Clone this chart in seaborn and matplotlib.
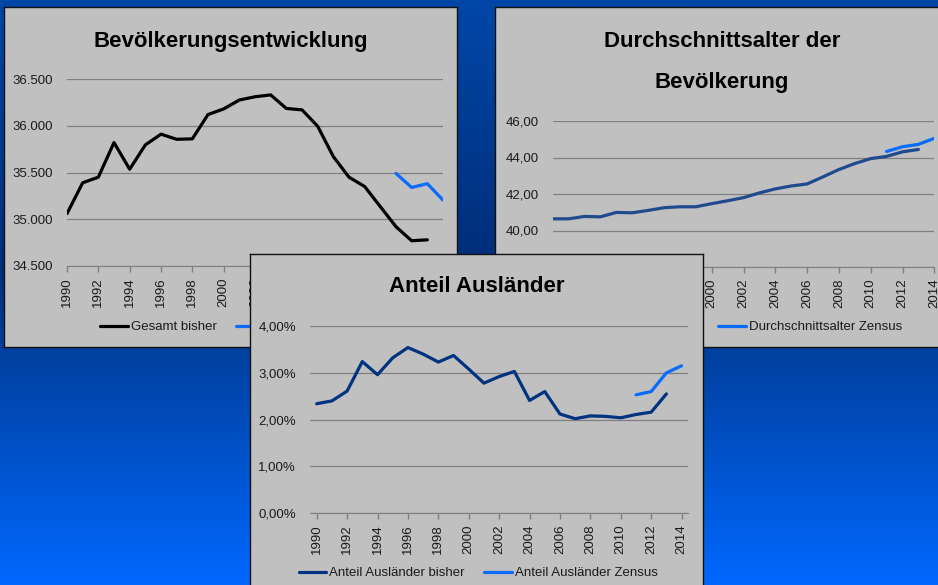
import numpy as np
import pandas as pd
import seaborn as sns
import matplotlib.pyplot as plt
from matplotlib.colors import LinearSegmentedColormap
from matplotlib.ticker import FuncFormatter, MultipleLocator

# --- data --------------------------------------------------------------
years = list(range(1990, 2014))
years_zensus = [2011, 2012, 2013, 2014]

einwohner_bisher = [35060, 35390, 35450, 35820, 35535, 35795, 35910, 35855,
                    35860, 36120, 36180, 36275, 36310, 36330, 36185, 36170,
                    35995, 35670, 35450, 35350, 35135, 34920, 34770, 34780]
einwohner_zensus = [35490, 35340, 35380, 35205]

alter_bisher = [40.64, 40.64, 40.77, 40.75, 40.99, 40.97, 41.10, 41.25,
                41.30, 41.30, 41.47, 41.63, 41.80, 42.06, 42.28, 42.44,
                42.55, 42.94, 43.34, 43.67, 43.94, 44.06, 44.31, 44.44]
alter_zensus = [44.33, 44.59, 44.72, 45.05]

auslaender_bisher = [2.34, 2.40, 2.61, 3.24, 2.96, 3.32, 3.54, 3.40, 3.23,
                     3.37, 3.08, 2.78, 2.92, 3.03, 2.41, 2.60, 2.12, 2.02,
                     2.08, 2.07, 2.04, 2.11, 2.16, 2.55]
auslaender_zensus = [2.53, 2.60, 3.00, 3.15]

titles = ["Bevölkerungsentwicklung", "Durchschnittsalter der\nBevölkerung",
          "Anteil Ausländer"]
labels = [("Gesamt bisher", "Gesamt Zensus"),
          ("Durchschnittsalter bisher", "Durchschnittsalter Zensus"),
          ("Anteil Ausländer bisher", "Anteil Ausländer Zensus")]

# --- styling -----------------------------------------------------------
sns.set_style("white")
plt.rcParams['font.family'] = ['Liberation Sans', 'DejaVu Sans']

W, H = 938, 585
fig = plt.figure(figsize=(W / 100, H / 100), dpi=100)

def rect(x0, y0, x1, y1):
    return [x0 / W, 1 - y1 / H, (x1 - x0) / W, (y1 - y0) / H]

# blue slide background
bg = fig.add_axes([0, 0, 1, 1], zorder=0)
cmap = LinearSegmentedColormap.from_list(
    "slide", [(0, "#0047a8"), (0.46, "#002d78"), (0.6, "#00409e"), (1, "#0068ff")])
bg.imshow(np.linspace(0, 1, 256).reshape(-1, 1), cmap=cmap, aspect="auto",
          extent=[0, 1, 0, 1])
bg.set_axis_off()

grid_c = "#808080"
txt_c = "#1a1a1a"
zensus_c = "#0a6cff"

def panel(box, z):
    p = fig.add_axes(rect(*box), zorder=z)
    p.set_facecolor("#c0c0c0")
    p.set_xticks([])
    p.set_yticks([])
    for s in p.spines.values():
        s.set_color("#111111")
        s.set_linewidth(1.0)
    return p

def chart(box, z, xlim, ylim, step, fmt, x1, y1, x2, y2, c1, l1, l2):
    ax = fig.add_axes(rect(*box), zorder=z)
    ax.set_facecolor("none")
    sns.lineplot(x=years, y=y1, ax=ax, color=c1, lw=2.3, label=l1)
    sns.lineplot(x=x2, y=y2, ax=ax, color=zensus_c, lw=2.3, label=l2)
    ax.set_xlim(*xlim)
    ax.set_ylim(*ylim)
    ax.yaxis.set_major_locator(MultipleLocator(step))
    ax.yaxis.set_major_formatter(FuncFormatter(fmt))
    ax.set_xticks(range(1990, 2015, 2))
    ax.tick_params(axis="x", rotation=90, length=4, width=1, color=grid_c,
                   labelsize=9.5, labelcolor=txt_c, pad=4, direction="out",
                   bottom=True)
    ax.tick_params(axis="y", length=0, labelsize=9.5, labelcolor=txt_c, pad=10)
    ax.grid(axis="y", color=grid_c, lw=0.9)
    ax.grid(axis="x", visible=False)
    for s in ["top", "right", "left"]:
        ax.spines[s].set_visible(False)
    ax.spines["bottom"].set_color(grid_c)
    ax.set_xlabel("")
    ax.set_ylabel("")
    return ax

def add_legend(ax, cx, cy):
    ax.legend(loc="center", bbox_to_anchor=(cx / W, 1 - cy / H),
              bbox_transform=fig.transFigure, ncol=2, frameon=False,
              fontsize=9.5, handlelength=2.1, handletextpad=0.2,
              columnspacing=1.5, labelcolor=txt_c)

def add_title(p, cx, cy, s, ls=1.2):
    p.text(cx / W, 1 - cy / H, s, transform=fig.transFigure, ha="center",
           va="center", fontsize=16, fontweight="bold", color="black",
           linespacing=ls)

# panel 1: population
p1 = panel((4, 7, 457, 347), 1)
add_title(p1, 231, 42, titles[0])
a1 = chart((67, 79, 443, 266), 2, (1990, 2014), (34500, 36500), 500,
           lambda v, p: f"{v:,.0f}".replace(",", "."),
           years, einwohner_bisher, years_zensus, einwohner_zensus,
           "black", *labels[0])
add_legend(a1, 230, 327)

# panel 2: average age
p2 = panel((495, 7, 950, 347), 3)
add_title(p2, 722, 62, titles[1], ls=2.3)
a2 = chart((552.7, 121, 934.3, 267), 4, (1990, 2014), (38, 46), 2,
           lambda v, p: f"{v:.2f}".replace(".", ","),
           years, alter_bisher, years_zensus, alter_zensus,
           "#1f4b8e", *labels[1])
add_legend(a2, 712, 327)

# panel 3: share of foreigners
p3 = panel((250, 254, 703, 600), 5)
add_title(p3, 477, 287, titles[2])
a3 = chart((310, 326, 688.3, 513.3), 6, (1989.56, 2014.44), (0, 4), 1,
           lambda v, p: f"{v:.2f}%".replace(".", ","),
           years, auslaender_bisher, years_zensus, auslaender_zensus,
           "#003380", *labels[2])
add_legend(a3, 478, 573)

fig.savefig("out.png", dpi=100)
